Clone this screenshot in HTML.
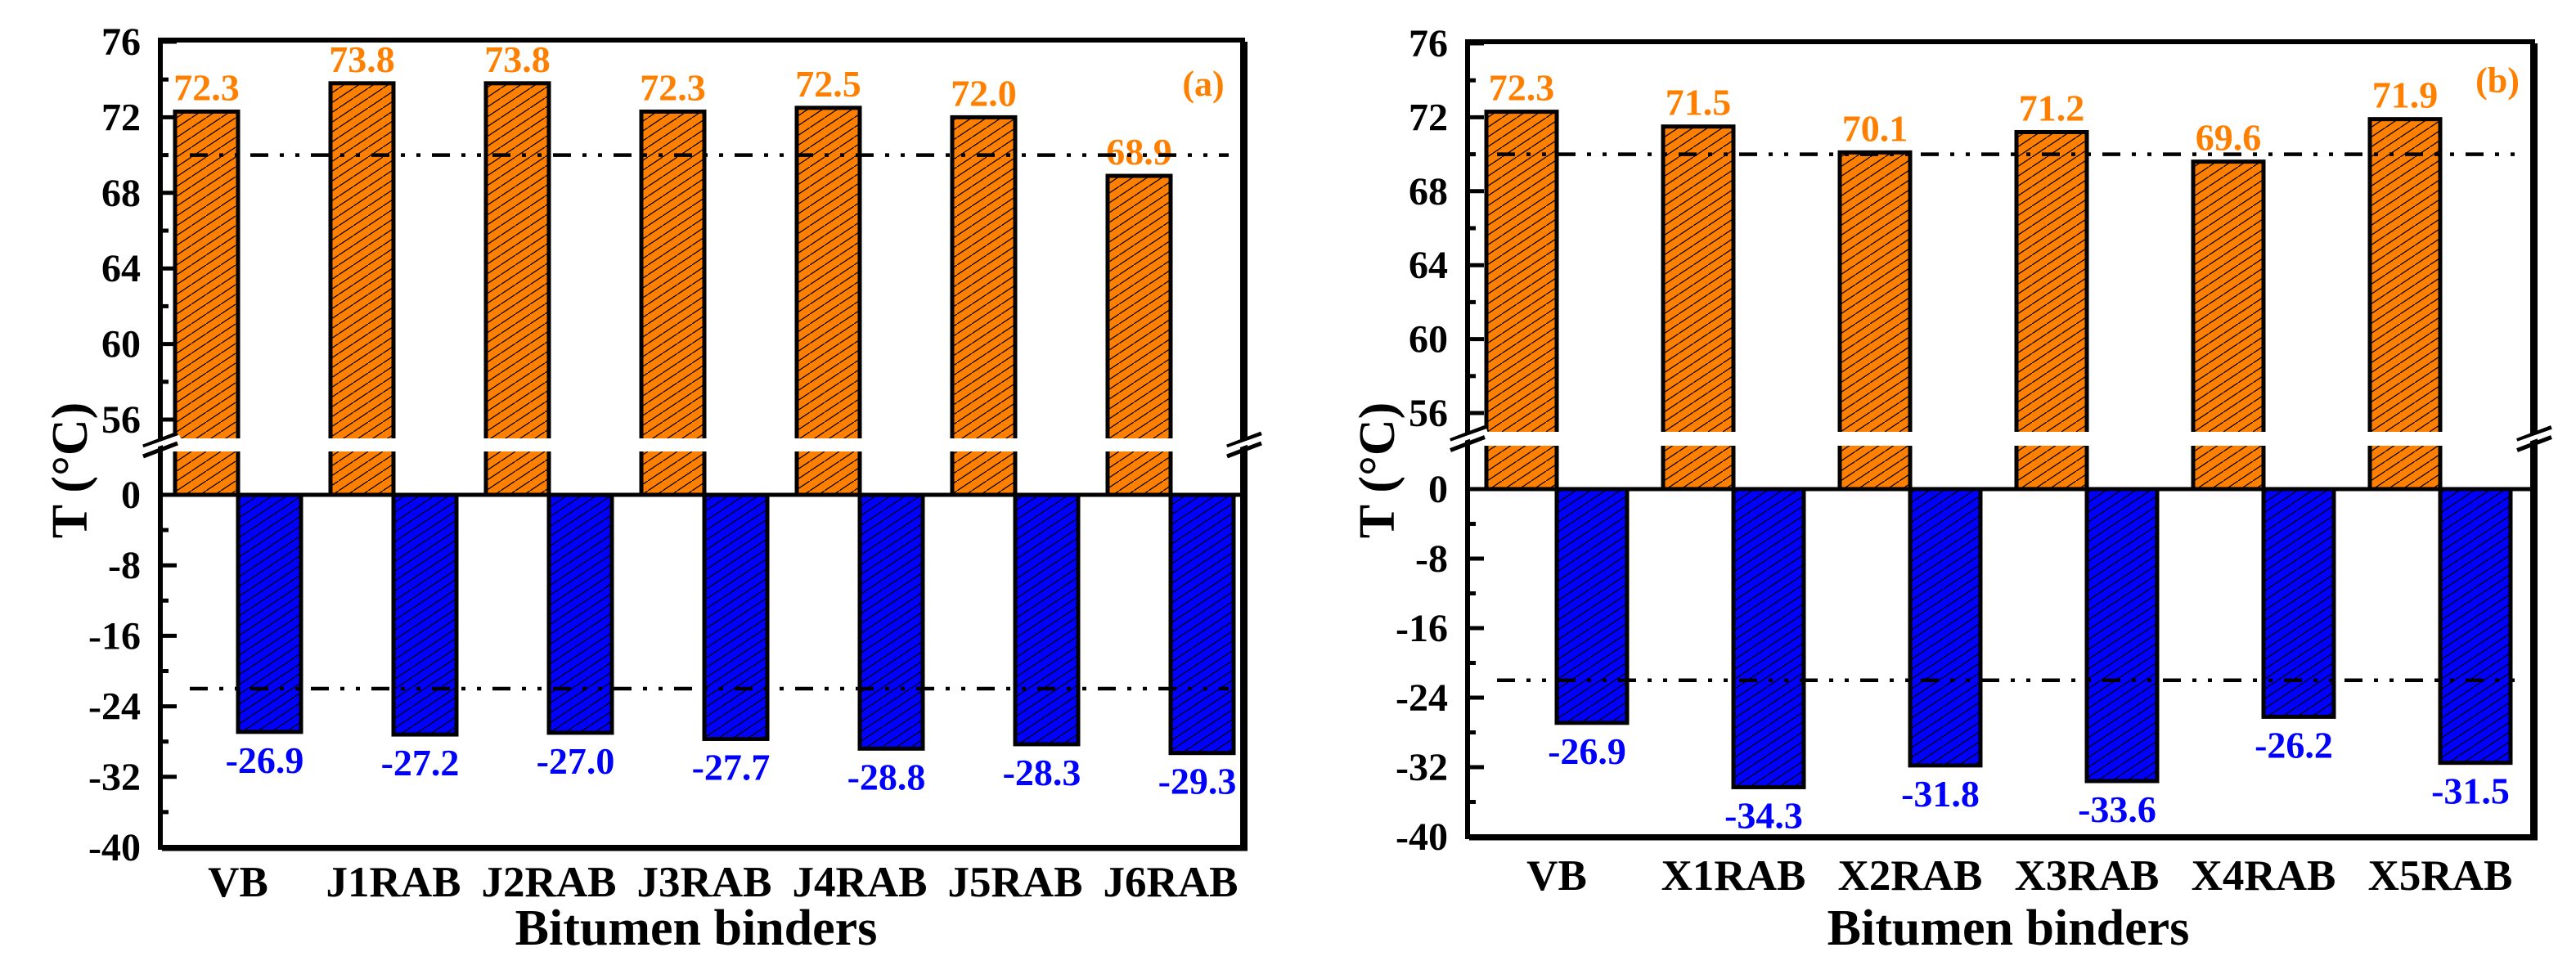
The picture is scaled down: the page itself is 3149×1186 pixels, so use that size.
<!DOCTYPE html>
<html><head><meta charset="utf-8"><style>
html,body{margin:0;padding:0;background:#fff;}
svg{display:block;}
svg text{font-family:"Liberation Serif","Times New Roman",serif;font-weight:bold;}
</style></head><body>
<svg id="chart" width="3149" height="1186" viewBox="0 0 3149 1186" xmlns="http://www.w3.org/2000/svg">
<defs>
<pattern id="hatch" patternUnits="userSpaceOnUse" width="18" height="12">
<line x1="-1" y1="12.7" x2="19" y2="-0.7" stroke="#000" stroke-width="1.2"/>
</pattern>
</defs>
</svg>
<script>
const catsA = ["VB","J1RAB","J2RAB","J3RAB","J4RAB","J5RAB","J6RAB"];
const highA = [72.3,73.8,73.8,72.3,72.5,72.0,68.9];
const lowA = [-26.9,-27.2,-27.0,-27.7,-28.8,-28.3,-29.3];
const catsB = ["VB","X1RAB","X2RAB","X3RAB","X4RAB","X5RAB"];
const highB = [72.3,71.5,70.1,71.2,69.6,71.9];
const lowB = [-26.9,-34.3,-31.8,-33.6,-26.2,-31.5];
const upperTicks = [56,58,60,62,64,66,68,70,72,74,76];
const upperLabels = [76,72,68,64,60,56];
const lowerTicks = [0,-4,-8,-12,-16,-20,-24,-28,-32,-36,-40];
const lowerLabels = [0,-8,-16,-24,-32,-40];
const refHigh = 70, refLow = -22;

const svg = document.getElementById('chart');
const NS = 'http://www.w3.org/2000/svg';
function mk(tag, attrs, parent){
  const e = document.createElementNS(NS, tag);
  for (const k in attrs) e.setAttribute(k, attrs[k]);
  (parent||svg).appendChild(e);
  return e;
}

function panel(p){
  const g = mk('g', {});
  
  
  const yU = v => p.y76 + (76 - v) * (p.y56 - p.y76) / 20;
  const yL = v => p.zero - v * (p.B - p.zero) / 40;
  const xO = i => p.x0 + i * p.step;
  p.cats.forEach((c, i) => {
    const ob = mk('rect', {x: xO(i), y: yU(p.high[i]), width: p.bw, height: p.zero - yU(p.high[i]), fill: '#ff8000', stroke: 'none'}, g);
    
    
    mk('rect', {x: xO(i), y: yU(p.high[i]), width: p.bw, height: p.zero - yU(p.high[i]), fill: 'url(#hatch)', stroke: '#000', 'stroke-width': 5}, g);
    const bb = mk('rect', {x: xO(i) + p.bw, y: p.zero, width: p.bw, height: yL(p.low[i]) - p.zero, fill: '#0000ff', stroke: 'none'}, g);
    
    
    mk('rect', {x: xO(i) + p.bw, y: p.zero, width: p.bw, height: yL(p.low[i]) - p.zero, fill: 'url(#hatch)', stroke: '#000', 'stroke-width': 5}, g);
    const t1 = mk('text', {x: xO(i) + p.bw / 2, y: yU(p.high[i]) - 14, 'text-anchor': 'middle', 'font-size': 46, fill: '#ff8000'}, g);
    t1.textContent = p.high[i].toFixed(1);
    
    
    const t2 = mk('text', {x: xO(i) + p.bw * 1.5 - 6, y: yL(p.low[i]) + 50, 'text-anchor': 'middle', 'font-size': 46, fill: '#0000ff'}, g);
    t2.textContent = p.low[i].toFixed(1);
    
    
    const cl = mk('text', {x: xO(i) + p.bw, y: p.catY, 'text-anchor': 'middle', 'font-size': 53, fill: '#000'}, g);
    cl.textContent = c;
    
    
  });
  mk('rect', {x: p.L + 3, y: p.gT, width: p.R - p.L - 6, height: p.gB - p.gT, fill: '#fff'}, g);
  [yU(refHigh), yL(refLow)].forEach(y => {
    const l = mk('line', {x1: p.L + 36, x2: p.R - 17, y1: y, y2: y, stroke: '#000', 'stroke-width': 4.5, 'stroke-dasharray': '22 14 5 14 5 14'}, g);
    
    
  });
  mk('line', {x1: p.L, x2: p.R, y1: p.zero, y2: p.zero, stroke: '#000', 'stroke-width': 5}, g);
  const fr = mk('rect', {x: p.L, y: p.T, width: p.R - p.L, height: p.B - p.T, fill: 'none', stroke: '#000', 'stroke-width': 6}, g);
  
  
  mk('line', {x1: p.R + 4, x2: p.R + 4, y1: p.T + 2, y2: p.B + 4, stroke: '#000', 'stroke-width': 4}, g);
  mk('line', {x1: p.L + 2, x2: p.R + 6, y1: p.B + 3, y2: p.B + 3, stroke: '#000', 'stroke-width': 3}, g);
  upperTicks.forEach(v => {
    const len = v % 4 === 0 ? 20 : 10;
    mk('line', {x1: p.L, x2: p.L + len, y1: yU(v), y2: yU(v), stroke: '#000', 'stroke-width': 5}, g);
  });
  lowerTicks.forEach(v => {
    const len = v % 8 === 0 ? 20 : 10;
    mk('line', {x1: p.L, x2: p.L + len, y1: yL(v), y2: yL(v), stroke: '#000', 'stroke-width': 5}, g);
  });
  upperLabels.forEach(v => {
    const t = mk('text', {x: p.L - 24, y: yU(v) + 16, 'text-anchor': 'end', 'font-size': 48, fill: '#000'}, g);
    t.textContent = v;
    
    
  });
  lowerLabels.forEach(v => {
    const t = mk('text', {x: p.L - 24, y: yL(v) + 16, 'text-anchor': 'end', 'font-size': 48, fill: '#000'}, g);
    t.textContent = v;
    
    
  });
  const bm = (x) => {
    const mid = (p.gT + p.gB) / 2;
    [-6, 6].forEach(o => mk('line', {x1: x - 21, y1: mid + o + 8, x2: x + 21, y2: mid + o - 8, stroke: '#000', 'stroke-width': 5}, g));
    mk('line', {x1: x - 24, y1: mid + 7, x2: x + 24, y2: mid - 10, stroke: '#fff', 'stroke-width': 5}, g);
  };
  bm(p.L); bm(p.R + 2);
  const yt = mk('text', {x: 0, y: 0, 'text-anchor': 'middle', 'font-size': 62, fill: '#000', transform: 'translate(' + (p.L - 90) + ',575) rotate(-90)'}, g);
  yt.textContent = 'T (°C)';
  
  
  const xt = mk('text', {x: p.xtX, y: 1155, 'text-anchor': 'middle', 'font-size': 62, fill: '#000'}, g);
  xt.textContent = 'Bitumen binders';
  
  
  const pl = mk('text', {x: p.tagX, y: p.tagY, 'text-anchor': 'middle', 'font-size': 44, fill: '#ff8000'}, g);
  pl.textContent = '(' + p.id + ')';
  
  
}

panel({id:'a', cats:catsA, high:highA, low:lowA, L:196, R:1519, T:49, B:1036, y76:51, y56:513, zero:605, gT:536, gB:552, x0:214, step:190, bw:77, catY:1096, xtX:851, tagX:1471, tagY:117});
panel({id:'b', cats:catsB, high:highB, low:lowB, L:1794, R:3096, T:51, B:1023, y76:53, y56:505, zero:598, gT:528, gB:545, x0:1817, step:216, bw:86, catY:1088, xtX:2455, tagX:3053, tagY:113});
</script>
</body></html>
